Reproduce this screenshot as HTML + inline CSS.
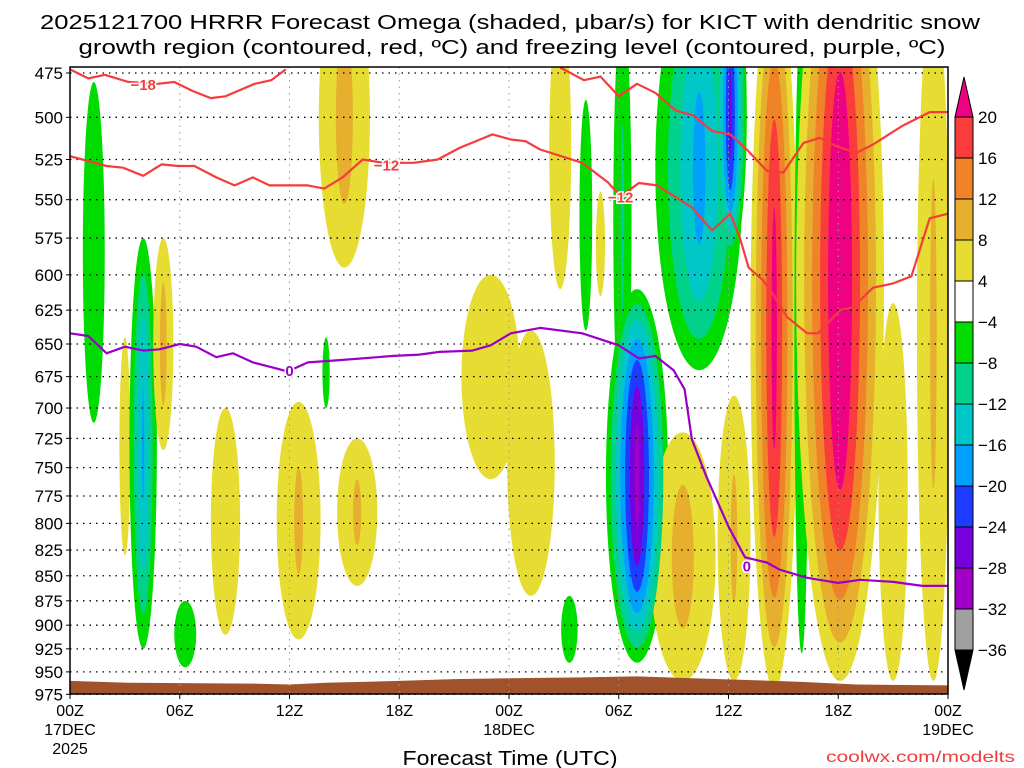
<!DOCTYPE html>
<html><head><meta charset="utf-8"><title>HRRR Omega KICT</title>
<style>html,body{margin:0;padding:0;background:#fff;}svg{display:block;font-family:"Liberation Sans",sans-serif;}</style></head>
<body>
<svg id="chart" width="1024" height="768" viewBox="0 0 1024 768" xmlns="http://www.w3.org/2000/svg">
<defs><clipPath id="plotclip"><rect x="70" y="67" width="878" height="627"/></clipPath></defs>
<g font-size="20" text-anchor="middle" fill="#000">
<text x="510" y="29" textLength="940" lengthAdjust="spacingAndGlyphs">2025121700 HRRR Forecast Omega (shaded, μbar/s) for KICT with dendritic snow</text>
<text x="512" y="54" textLength="867" lengthAdjust="spacingAndGlyphs">growth region (contoured, red, ºC) and freezing level (contoured, purple, ºC)</text>
</g>
<rect x="70" y="67" width="878" height="627" fill="#fff"/>
<g id="shading" clip-path="url(#plotclip)"></g>
<g id="terrain" clip-path="url(#plotclip)"></g>
<g id="grid"></g>
<g id="contours" clip-path="url(#plotclip)"></g>
<rect x="70" y="67" width="878" height="627" fill="none" stroke="#000" stroke-width="1.5"/>
<g id="yaxis" font-size="17" text-anchor="end"></g>
<g id="xaxis" font-size="16" text-anchor="middle"></g>
<text x="510" y="765" font-size="20" text-anchor="middle" textLength="215" lengthAdjust="spacingAndGlyphs">Forecast Time (UTC)</text>
<text x="1015" y="762" font-size="16" text-anchor="end" fill="#f03c3c" textLength="189" lengthAdjust="spacingAndGlyphs">coolwx.com/modelts</text>
<g id="colorbar" font-size="17"></g>
</svg>
<script>
const NS="http://www.w3.org/2000/svg";
// axis data
const pressureTicks=[475,500,525,550,575,600,625,650,675,700,725,750,775,800,825,850,875,900,925,950,975];
const hourTicks=[0,6,12,18,24,30,36,42,48];
const hourLabels=["00Z","06Z","12Z","18Z","00Z","06Z","12Z","18Z","00Z"];
const dateLabels=["17DEC","","","","18DEC","","","","19DEC"];
// omega plumes: hour, top p, bottom p, half-width hours, peak value
const plumeHour=[1.3,3.0,4.0,5.1,6.3,8.5,15.0,14.0,12.5,15.7,23.0,25.2,26.8,28.2,30.2,34.4,36.1,31.0,27.3,33.5,36.3,38.5,40.0,42.1,45.0,47.2,29.0];
const plumeTop=[480,645,575,575,875,700,420,645,695,725,600,640,440,490,440,420,420,610,870,720,690,420,440,380,620,430,545];
const plumeBottom=[712,830,925,735,945,910,595,700,915,860,760,870,610,640,720,670,590,940,940,960,960,970,930,960,960,960,615];
const plumeWidth=[0.6,0.3,0.75,0.55,0.6,0.8,1.4,0.2,1.2,1.1,1.6,1.3,0.6,0.35,0.5,2.4,0.9,1.7,0.45,1.8,0.9,1.3,0.4,2.4,0.8,0.9,0.25];
const plumeValue=[-6,6,-17,10,-6,6,10,-6,9,9,6,6,8,-6,-9,-18,-26,-30,-6,10,9,22,-8,26,6,9,5];
// contour lines
const m18Hours=[0,1.0,1.9,3.2,4.8,5.7,6.7,7.7,8.5,10.1,11.0,11.8];
const m18Press=[473,478,476,480,481,480,485,489,488,481,479,473];
const m18bHours=[26.8,28.1,29.0,30.0,31.0,32.0,33.1,34.1,35.1,36.1,37.0,38.1,39.0,40.1,41.0,41.9,43.0,43.9,45.5,47.0,48];
const m18bPress=[472,479,477,488,481,486,496,499,508,510,519,532,533,515,512,517,521,516,505,497,497];
const m12Hours=[0,2.0,2.9,4.0,5.0,5.9,6.8,8.0,9.0,10.0,10.9,12.0,13.0,13.9,14.9,16.0,17.1,18.8,20.1,21.3,23.1,24.1,24.9,25.7,28.0,29.4,30.1,31.1,32.1,34.0,35.1,36.1,36.6,37.1,37.9,38.4,39.2,40.3,40.9,42.1,42.8,43.9,45.0,46.0,47.0,48];
const m12Press=[523,529,530,535,528,529,529,536,541,536,541,541,541,543,536,525,527,527,525,518,510,513,514,519,527,539,548,539.5,541,555,570,559,574,595,604,613,630,642,642,625,623,609,606,601,562,559];
const zeroHours=[0,1.0,2.0,3.0,4.0,4.9,6.0,6.9,8.0,8.9,10.0,11.1,11.9,13.0,14.0,15.9,17.7,19.1,20.2,22.0,23.0,24.1,25.7,28.0,30.0,31.1,32.0,33.0,33.6,34.0,34.8,36.0,36.9,38.1,38.8,40.3,42.0,43.2,45.0,46.6,48];
const zeroPress=[642,644,657,652,655,654,650,652,660,657,664,668,671,664,663,661,659,658,656,655,651,642,638,642,651,661,659,670,685,726,758,803,832,837,844,852,857,854,856,860,860];
const sfcHours=[0,3.2,10,12,14,18,21,24,28,31,34,40,43,48];
const sfcPress=[960,962,963,964,962,960,958,957,956,955,957,961,964,965];
// colorbar
const cbLabels=["20","16","12","8","4","−4","−8","−12","−16","−20","−24","−28","−32","−36"];
const cbColors=["#fa3c3c","#f08228","#e6af2d","#e6dc32","#ffffff","#00dc00","#00d28c","#00c8c8","#00a0ff","#1e3cff","#7800dc","#a000c8","#a0a0a0"];
const posThr=[4,8,12,16,20];
const posCol=["#e6dc32","#e6af2d","#f08228","#fa3c3c","#f00082"];
const negThr=[-4,-8,-12,-16,-20,-24,-28,-32];
const negCol=["#00dc00","#00d28c","#00c8c8","#00a0ff","#1e3cff","#7800dc","#a000c8","#a0a0a0"];

const X=h=>70+h*878/48;
const Y=p=>73+864*Math.log(p/475);
function mk(tag,attrs,parent){const e=document.createElementNS(NS,tag);for(const k in attrs)e.setAttribute(k,attrs[k]);parent.appendChild(e);return e;}

// shading
const shade=document.getElementById('shading');
for(let lev=0;lev<8;lev++){
  for(let i=0;i<plumeHour.length;i++){
    const v=plumeValue[i];const pos=v>0;
    const thr=pos?posThr:negThr;const col=pos?posCol:negCol;
    if(lev>=thr.length)continue;
    const t=thr[lev];
    if(Math.abs(v)<=Math.abs(t))continue;
    const s=(Math.abs(v)-Math.abs(t))/(Math.abs(v)-4);
    const yt=Y(plumeTop[i]),yb=Y(plumeBottom[i]);
    const cy=(yt+yb)/2,ry=(yb-yt)/2*Math.sqrt(s);
    const cx=X(plumeHour[i]),rx=plumeWidth[i]*878/48*s;
    const e=mk('ellipse',{cx:cx,cy:cy,rx:rx,ry:ry,fill:col[lev]},shade);
    
    
  }
}

// terrain
const ter=document.getElementById('terrain');
let td='M'+X(sfcHours[0])+' 700';
sfcHours.forEach((h,i)=>{td+=' L'+X(h)+' '+Y(sfcPress[i]);});
td+=' L'+X(sfcHours[sfcHours.length-1])+' 700 Z';
const tp=mk('path',{d:td,fill:'#a0522d'},ter);



// grid
const grid=document.getElementById('grid');
pressureTicks.forEach(p=>{
  const l=mk('line',{x1:70,x2:948,y1:Y(p),y2:Y(p),stroke:'#000','stroke-width':1.3,'stroke-dasharray':'1.5,5'},grid);
  
  
});
hourTicks.forEach(h=>{
  const l=mk('line',{x1:X(h),x2:X(h),y1:67,y2:694,stroke:'#999','stroke-width':1,'stroke-dasharray':'1.5,5'},grid);
  
  
});

// contours
const con=document.getElementById('contours');
function line(hs,ps,color,name){
  const d=hs.map((h,i)=>(i?'L':'M')+X(h).toFixed(1)+' '+Y(ps[i]).toFixed(1)).join(' ');
  const e=mk('path',{d:d,fill:'none',stroke:color,'stroke-width':2.2,'stroke-linejoin':'round'},con);
  
  
}
line(m18Hours,m18Press,'#f53c3c','minus18-contour');
line(m18bHours,m18bPress,'#f53c3c','minus18-contour-right');
line(m12Hours,m12Press,'#f53c3c','minus12-contour');
line(zeroHours,zeroPress,'#9b00c8','freezing-level-contour');
function clabel(h,p,txt,color,name){
  const t=mk('text',{x:X(h),y:Y(p)+6,'font-size':15,'font-weight':'bold','text-anchor':'middle',fill:color,stroke:'#fff','stroke-width':3,'paint-order':'stroke'},con);
  t.textContent=txt;
  
  
}
clabel(4.0,481,'−18','#f53c3c','label-minus18');
clabel(17.3,528,'−12','#f53c3c','label-minus12');
clabel(30.1,548,'−12','#f53c3c','label-minus12b');
clabel(12.0,670,'0','#9b00c8','label-zero');
clabel(37.0,840,'0','#9b00c8','label-zero-b');

// y axis
const ya=document.getElementById('yaxis');
pressureTicks.forEach(p=>{
  const t=mk('text',{x:63,y:Y(p)+6},ya);t.textContent=p;
  
  
  const k=mk('line',{x1:66,x2:70,y1:Y(p),y2:Y(p),stroke:'#000'},ya);
  
  
});
// x axis
const xa=document.getElementById('xaxis');
hourTicks.forEach((h,i)=>{
  const t=mk('text',{x:X(h),y:716},xa);t.textContent=hourLabels[i];
  
  
  if(dateLabels[i]){const d=mk('text',{x:X(h),y:735},xa);d.textContent=dateLabels[i];
    
    }
  const k=mk('line',{x1:X(h),x2:X(h),y1:694,y2:699,stroke:'#000'},xa);
  
  
});
const yr=mk('text',{x:X(0),y:754},xa);yr.textContent='2025';



// colorbar
const cb=document.getElementById('colorbar');
const cbTop=117,cbStep=41,cbX=955,cbW=18;
const tri1=mk('path',{d:`M${cbX} ${cbTop} L${cbX+cbW/2} ${cbTop-40} L${cbX+cbW} ${cbTop} Z`,fill:'#f00082',stroke:'#000'},cb);


cbColors.forEach((c,i)=>{
  const r=mk('rect',{x:cbX,y:cbTop+i*cbStep,width:cbW,height:cbStep,fill:c,stroke:'#000','stroke-width':1},cb);
  
  
});
const yEnd=cbTop+cbColors.length*cbStep;
const tri2=mk('path',{d:`M${cbX} ${yEnd} L${cbX+cbW/2} ${yEnd+40} L${cbX+cbW} ${yEnd} Z`,fill:'#000',stroke:'#000'},cb);


cbLabels.forEach((l,i)=>{
  const t=mk('text',{x:978,y:cbTop+i*cbStep+6},cb);t.textContent=l;
  
  
});
</script>
</body></html>
